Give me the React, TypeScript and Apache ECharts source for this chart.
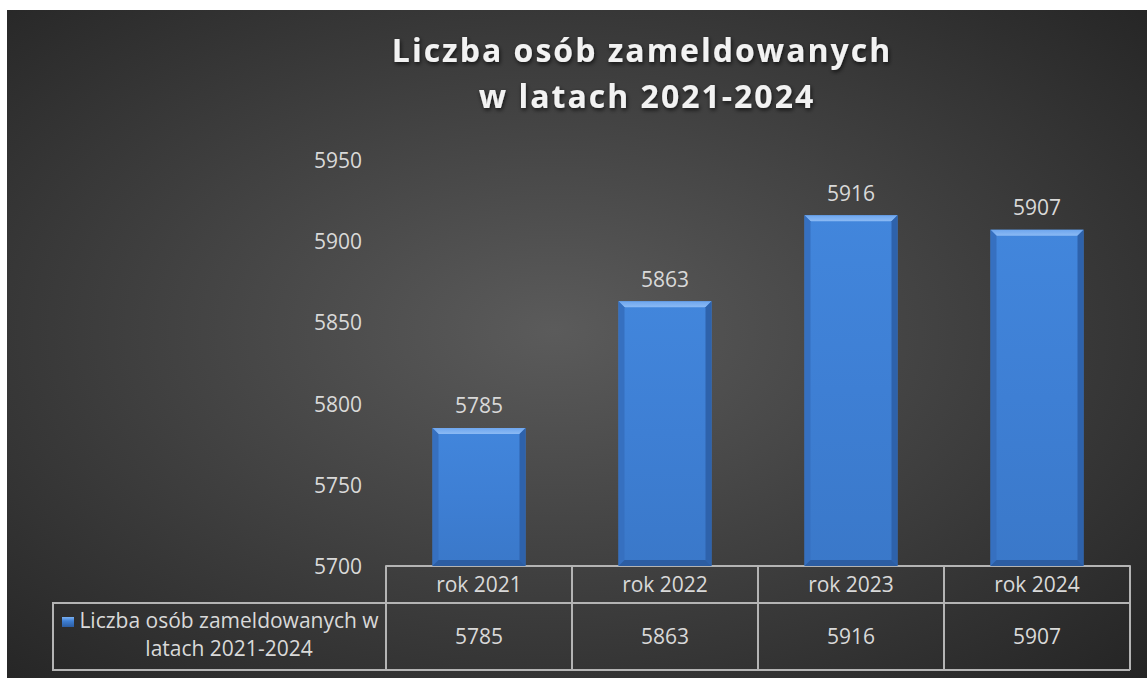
import React, { useEffect, useRef } from "react";
import * as echarts from "echarts";

const titleLines = ["Liczba osób zameldowanych", "w latach 2021-2024"];
const seriesName = "Liczba osób zameldowanych w latach 2021-2024";
const legendLines = ["Liczba osób zameldowanych w", "latach 2021-2024"];
const categories = ["rok 2021", "rok 2022", "rok 2023", "rok 2024"];
const values = [5785, 5863, 5916, 5907];
const yMin = 5700;
const yMax = 5950;
const yInterval = 50;

const FONT = "'Open Sans', 'Noto Sans', sans-serif";
const LINE = "#b4b4b4";
const TXT = "#d9d9d9";
const FS = 21;

export default function App() {
  const ref = useRef<HTMLDivElement>(null);
  useEffect(() => {
    if (!ref.current) return;
    const chart = echarts.init(ref.current, undefined, { renderer: "svg" });
    const titleStyle = {
      fill: "#f2f2f2",
      fontSize: 32,
      fontWeight: "bold",
      fontFamily: FONT,
      align: "center",
      verticalAlign: "middle",
      textShadowColor: "rgba(0,0,0,0.7)",
      textShadowBlur: 4,
      textShadowOffsetX: 1,
      textShadowOffsetY: 2,
    };
    const option: any = {
      animation: false,
      backgroundColor: {
        type: "radial",
        x: 0.48,
        y: 0.48,
        r: 0.75,
        colorStops: [
          { offset: 0, color: "#5b5b5b" },
          { offset: 1, color: "#232323" },
        ],
      },
      grid: { left: 379, right: 17, top: 150, bottom: 112, containLabel: false },
      xAxis: [
        {
          type: "category",
          data: categories,
          position: "bottom",
          axisLine: { show: true, lineStyle: { color: LINE, width: 2 } },
          axisTick: { show: true, length: 104, lineStyle: { color: LINE, width: 2 } },
          axisLabel: { color: TXT, fontSize: FS, fontFamily: FONT, margin: 7 },
          splitLine: { show: false },
        },
        {
          type: "category",
          data: values.map((v) => String(v)),
          position: "bottom",
          offset: 37,
          axisLine: { show: true, lineStyle: { color: LINE, width: 2 } },
          axisTick: { show: false },
          axisLabel: { color: TXT, fontSize: FS, fontFamily: FONT, margin: 22 },
          splitLine: { show: false },
        },
      ],
      yAxis: {
        type: "value",
        min: yMin,
        max: yMax,
        interval: yInterval,
        axisLine: { show: false },
        axisTick: { show: false },
        splitLine: { show: false },
        axisLabel: {
          color: TXT,
          fontSize: FS,
          fontFamily: FONT,
          margin: 24,
          formatter: (v: number) => String(v),
        },
      },
      series: [
        {
          name: seriesName,
          type: "custom",
          xAxisIndex: 0,
          yAxisIndex: 0,
          data: values.map((v, i) => [i, v]),
          encode: { x: 0, y: 1 },
          renderItem: (params: any, api: any) => {
            const idx = api.value(0);
            const val = api.value(1);
            const top = api.coord([idx, val]);
            const base = api.coord([idx, yMin]);
            const w = api.size([1, 0])[0] * 0.5;
            const x0 = top[0] - w / 2;
            const x1 = top[0] + w / 2;
            const y0 = top[1];
            const y1 = base[1];
            const b = 6;
            return {
              type: "group",
              children: [
                {
                  type: "rect",
                  shape: { x: x0, y: y0, width: w, height: y1 - y0 },
                  style: {
                    fill: {
                      type: "linear",
                      x: 0,
                      y: 0,
                      x2: 0,
                      y2: 1,
                      colorStops: [
                        { offset: 0, color: "#4286dc" },
                        { offset: 0.5, color: "#3e7fd4" },
                        { offset: 1, color: "#3a78c9" },
                      ],
                    },
                  },
                },
                {
                  type: "polygon",
                  shape: { points: [[x0, y0], [x1, y0], [x1 - b, y0 + b], [x0 + b, y0 + b]] },
                  style: {
                    fill: {
                      type: "linear",
                      x: 0,
                      y: 0,
                      x2: 0,
                      y2: 1,
                      colorStops: [
                        { offset: 0, color: "#6ea6ee" },
                        { offset: 1, color: "#8bbaf4" },
                      ],
                    },
                  },
                },
                {
                  type: "polygon",
                  shape: { points: [[x0, y0], [x0 + b, y0 + b], [x0 + b, y1 - b], [x0, y1]] },
                  style: { fill: "#3670c0" },
                },
                {
                  type: "polygon",
                  shape: { points: [[x1, y0], [x1, y1], [x1 - b, y1 - b], [x1 - b, y0 + b]] },
                  style: { fill: "#2e62ab" },
                },
                {
                  type: "polygon",
                  shape: { points: [[x0, y1], [x0 + b, y1 - b], [x1 - b, y1 - b], [x1, y1]] },
                  style: { fill: "#2c5da2" },
                },
                {
                  type: "text",
                  x: top[0],
                  y: y0 - 12,
                  style: {
                    text: String(val),
                    fill: TXT,
                    fontSize: FS,
                    fontFamily: FONT,
                    align: "center",
                    verticalAlign: "bottom",
                  },
                },
              ],
            };
          },
        },
      ],
      graphic: [
        { type: "text", x: 635, y: 39, style: { ...titleStyle, text: titleLines[0] } },
        { type: "text", x: 640, y: 85, style: { ...titleStyle, text: titleLines[1] } },
        {
          type: "line",
          shape: { x1: 46, y1: 593, x2: 379, y2: 593 },
          style: { stroke: LINE, lineWidth: 2 },
        },
        {
          type: "line",
          shape: { x1: 46, y1: 660, x2: 1123, y2: 660 },
          style: { stroke: LINE, lineWidth: 2 },
        },
        {
          type: "line",
          shape: { x1: 46, y1: 592, x2: 46, y2: 661 },
          style: { stroke: LINE, lineWidth: 2 },
        },
        {
          type: "rect",
          shape: { x: 55, y: 607, width: 12, height: 10 },
          style: {
            fill: {
              type: "linear",
              x: 0,
              y: 0,
              x2: 0,
              y2: 1,
              colorStops: [
                { offset: 0, color: "#7ab0f2" },
                { offset: 0.4, color: "#3e7fd4" },
                { offset: 1, color: "#2c5da2" },
              ],
            },
          },
        },
        {
          type: "text",
          x: 222,
          y: 624,
          style: {
            text: legendLines.join("\n"),
            fill: TXT,
            fontSize: FS,
            fontFamily: FONT,
            lineHeight: 28,
            align: "center",
            verticalAlign: "middle",
          },
        },
      ],
    };
    chart.setOption(option);
    // emulate the expanded character spacing of the title
    const applySpacing = () => {
      const el = ref.current;
      if (!el) return;
      el.querySelectorAll("text").forEach((t) => {
        if (titleLines.includes((t.textContent || "").trim())) {
          t.setAttribute("letter-spacing", "2");
        }
      });
    };
    applySpacing();
    chart.on("finished", applySpacing);
    return () => chart.dispose();
  }, []);
  return (
    <div
      ref={ref}
      style={{ position: "absolute", left: 7, top: 10, width: 1140, height: 668 }}
    />
  );
}
